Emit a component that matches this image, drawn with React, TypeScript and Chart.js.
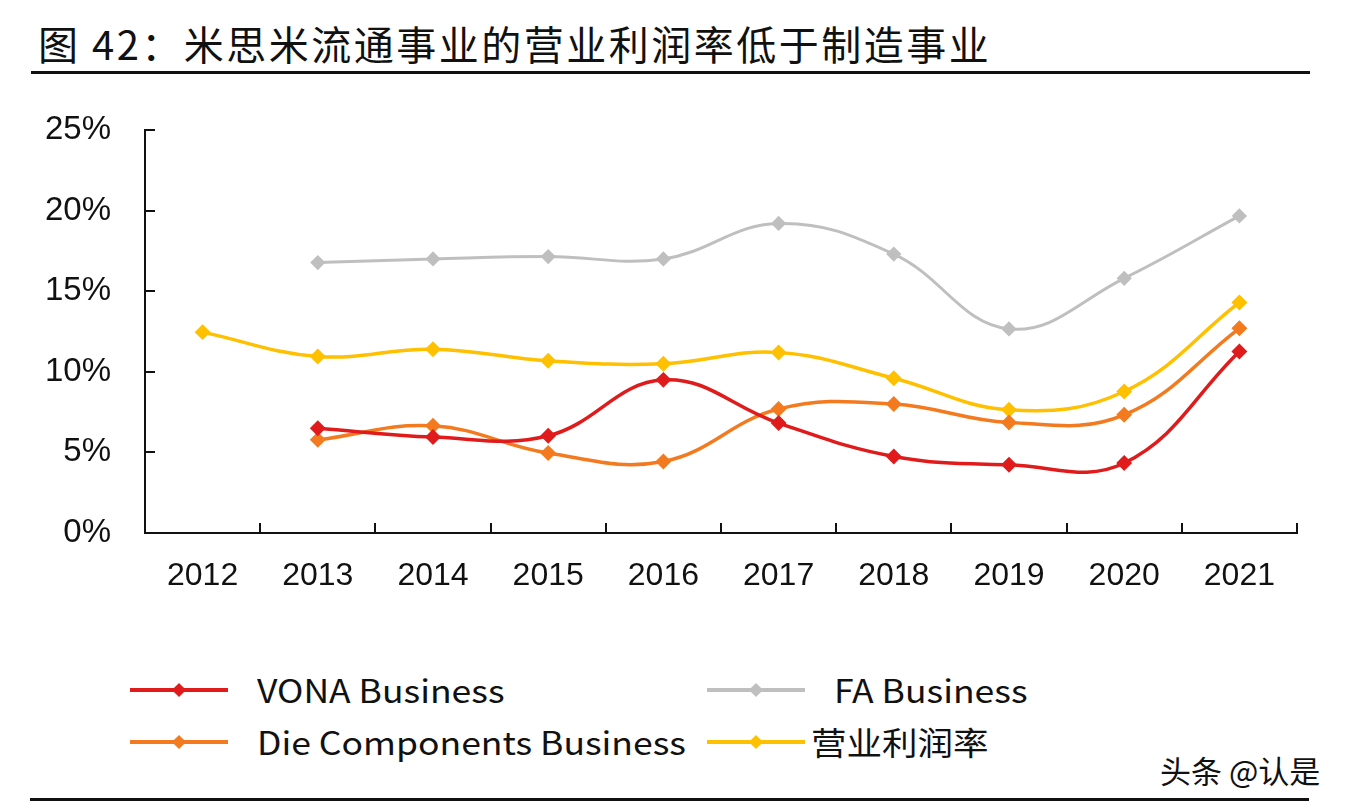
import React, { useEffect, useRef } from "react";
import { Chart, registerables } from "chart.js";

Chart.register(...registerables);

const years = ["2012", "2013", "2014", "2015", "2016", "2017", "2018", "2019", "2020", "2021"];
const vona = [null, 6.5, 5.95, 6.03, 9.5, 6.82, 4.75, 4.23, 4.34, 11.26];
const fa = [null, 16.78, 17.0, 17.15, 17.0, 19.2, 17.3, 12.66, 15.8, 19.67];
const die = [null, 5.78, 6.65, 4.96, 4.44, 7.69, 8.0, 6.86, 7.33, 12.7];
const opMargin = [12.46, 10.95, 11.4, 10.68, 10.5, 11.2, 9.6, 7.64, 8.78, 14.3];
const yTicks = [0, 5, 10, 15, 20, 25];

const seriesNames = ["VONA Business", "FA Business", "Die Components Business", "营业利润率"];
const colors = ["#e01b1b", "#bfbfbf", "#f47a1f", "#ffc000"];

const tickPlugin = {
  id: "inwardTicks",
  afterDraw(chart: any) {
    const ctx = chart.ctx;
    const x = chart.scales.x;
    const y = chart.scales.y;
    const area = chart.chartArea;
    ctx.save();
    ctx.strokeStyle = "#111";
    ctx.lineWidth = 2;
    ctx.beginPath();
    y.ticks.forEach((_t: any, i: number) => {
      const py = Math.round(y.getPixelForTick(i));
      ctx.moveTo(area.left, py);
      ctx.lineTo(area.left + 10, py);
    });
    const n = x.ticks.length;
    for (let i = 1; i <= n; i++) {
      let px;
      if (i < n) px = (x.getPixelForTick(i - 1) + x.getPixelForTick(i)) / 2;
      else px = area.right;
      px = Math.round(px);
      ctx.moveTo(px, area.bottom);
      ctx.lineTo(px, area.bottom - 10);
    }
    ctx.stroke();
    ctx.restore();
  },
};

function LegendItem({ color, label, x, y, textX }: any) {
  return (
    <>
      <div style={{ position: "absolute", left: x, top: y - 2, width: 98, height: 4, background: color }} />
      <div
        style={{
          position: "absolute",
          left: x + 49 - 5,
          top: y - 5,
          width: 10,
          height: 10,
          background: color,
          transform: "rotate(45deg)",
        }}
      />
      <div
        style={{
          position: "absolute",
          left: textX,
          top: y - 23,
          fontFamily: "'Noto Sans CJK SC', 'Noto Sans', sans-serif",
          fontSize: 32,
          lineHeight: "44px",
          height: 44,
          color: "#111",
          whiteSpace: "pre",
          transform: "scaleX(1.11)",
          transformOrigin: "left center",
        }}
      >
        {label}
      </div>
    </>
  );
}

export default function App() {
  const ref = useRef<HTMLCanvasElement>(null);

  useEffect(() => {
    const data = [vona, fa, die, opMargin];
    const chart = new Chart(ref.current as HTMLCanvasElement, {
      type: "line",
      data: {
        labels: years,
        datasets: data.map((d, i) => ({
          label: seriesNames[i],
          data: d as any,
          borderColor: colors[i],
          backgroundColor: colors[i],
          borderWidth: i === 1 ? 3 : 3.5,
          pointStyle: "rectRot",
          pointRadius: 5.5,
          pointBackgroundColor: colors[i],
          pointBorderColor: colors[i],
          tension: 0.4,
          fill: false,
          order: i === 1 ? 4 : i,
        })),
      },
      options: {
        animation: false,
        responsive: false,
        layout: { padding: { top: 53, right: 67, left: 0, bottom: 0 } },
        plugins: {
          legend: { display: false },
          title: { display: false },
          tooltip: { enabled: false },
        },
        scales: {
          x: {
            offset: true,
            grid: { display: false },
            border: { display: true, color: "#111", width: 2 },
            ticks: {
              padding: 16,
              color: "#111",
              font: { family: "'Liberation Sans', Arial, sans-serif", size: 32 },
              maxRotation: 0,
            },
            afterFit: (s: any) => {
              s.height = 87;
            },
          },
          y: {
            min: 0,
            max: 25,
            afterBuildTicks: (s: any) => {
              s.ticks = yTicks.map((v) => ({ value: v }));
            },
            grid: { display: false },
            border: { display: true, color: "#111", width: 2 },
            ticks: {
              padding: 26,
              color: "#111",
              font: { family: "'Liberation Sans', Arial, sans-serif", size: 33 },
              callback: (v: any) => v + "%",
            },
            afterFit: (s: any) => {
              s.width = 145;
            },
          },
        },
      },
      plugins: [tickPlugin],
    });
    return () => chart.destroy();
  }, []);

  return (
    <div style={{ position: "absolute", left: 0, top: 0, width: 1364, height: 812, background: "#fff", overflow: "hidden" }}>
      <div
        style={{
          position: "absolute",
          left: 38,
          top: 16,
          fontFamily: "'Noto Sans CJK SC', sans-serif",
          fontSize: 40,
          lineHeight: "54px",
          letterSpacing: 2.5,
          color: "#111",
          whiteSpace: "pre",
        }}
      >
        图 42：米思米流通事业的营业利润率低于制造事业
      </div>
      <div style={{ position: "absolute", left: 31, top: 71, width: 1279, height: 3, background: "#111" }} />
      <canvas
        ref={ref}
        width={1364}
        height={543}
        style={{ position: "absolute", left: 0, top: 77, width: 1364, height: 543 }}
      />
      <LegendItem color={colors[0]} label={seriesNames[0]} x={130} y={690} textX={257} />
      <LegendItem color={colors[1]} label={" " + seriesNames[1]} x={707} y={690} textX={826} />
      <LegendItem color={colors[2]} label={seriesNames[2]} x={130} y={742} textX={257} />
      <LegendItem color={colors[3]} label={seriesNames[3]} x={707} y={742} textX={811} />
      <div
        style={{
          position: "absolute",
          left: 1160,
          top: 748,
          fontFamily: "'Noto Sans CJK SC', sans-serif",
          fontSize: 31,
          lineHeight: "44px",
          color: "#111",
          whiteSpace: "pre",
        }}
      >
        头条 @认是
      </div>
      <div style={{ position: "absolute", left: 30, top: 798, width: 1279, height: 3, background: "#111" }} />
    </div>
  );
}
